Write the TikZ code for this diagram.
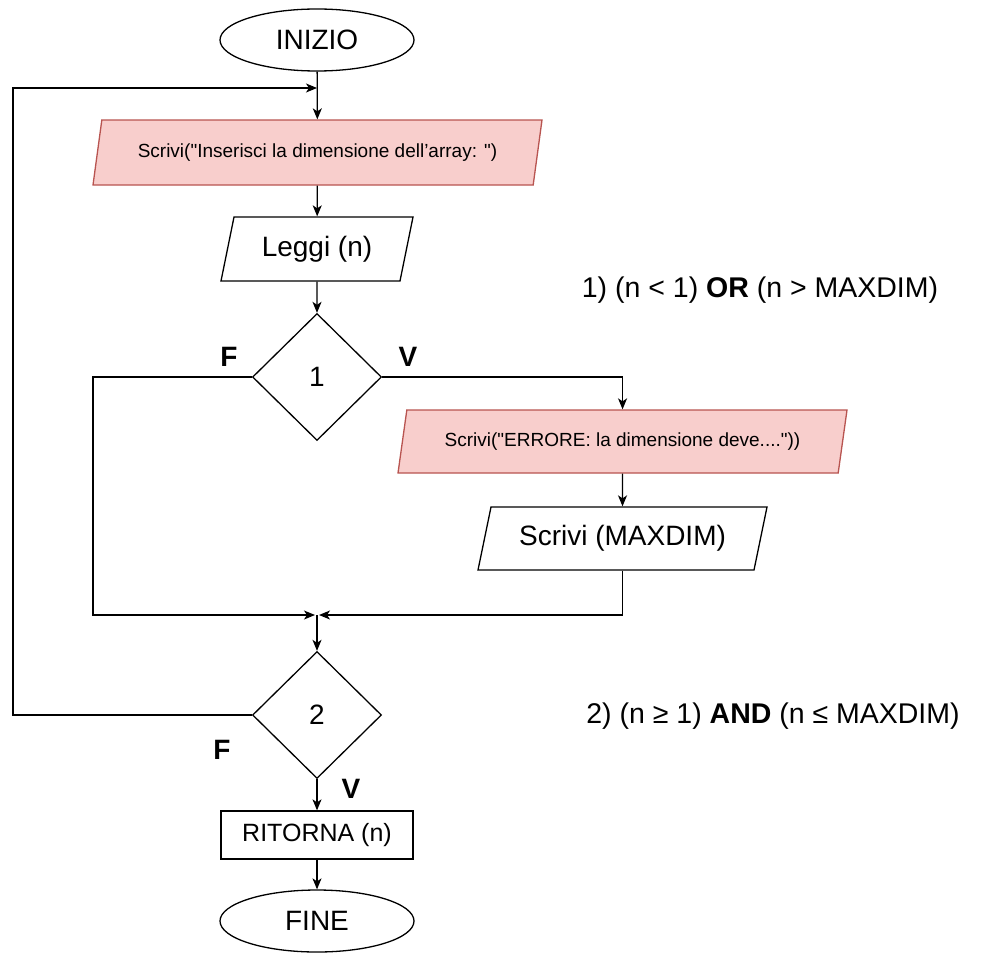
\documentclass[tikz,border=0pt]{standalone}
\usepackage{fontspec}
\newfontfamily\lsans{Liberation Sans}
\usetikzlibrary{shapes.geometric,arrows.meta}
\definecolor{pinkfill}{HTML}{F8CECC}
\definecolor{pinkline}{HTML}{B85450}
\begin{document}
\begin{tikzpicture}[x=1pt,y=-1pt, line width=1.3pt,
  >={Stealth[length=11pt,width=9pt,inset=3pt]},
  every node/.style={font=\lsans\fontsize{28}{32}\selectfont, text=black},
  term/.style={ellipse, draw, minimum width=194pt, minimum height=62pt, inner sep=0pt},
  para/.style={trapezium, trapezium left angle=63.5, trapezium right angle=116.5,
    trapezium stretches body, draw, inner sep=0pt},
  pinkbox/.style={fill=pinkfill, draw=pinkline, font=\lsans\fontsize{19}{22}\selectfont},
  dec/.style={diamond, draw, minimum width=129pt, minimum height=127pt, inner sep=0pt},
  procbox/.style={rectangle, draw, minimum width=192pt, minimum height=48pt, inner sep=0pt,
    font=\lsans\fontsize{25}{29}\selectfont},
  lbl/.style={font=\lsans\bfseries\fontsize{28}{32}\selectfont},
  cond/.style={font=\lsans\fontsize{28.5}{32}\selectfont}
]
\useasboundingbox (0,0) rectangle (981,955);

\node[term] (start) at (317,40) {INIZIO};
\node[para, pinkbox, minimum width=449pt, minimum height=65pt] (w1) at (317.5,152.5)
  {Scrivi("Inserisci la dimensione dell’array: ")};
\node[para, minimum width=192pt, minimum height=64pt] (leggi) at (317,249) {Leggi (n)};
\node[dec] (d1) at (317,377) {1};
\node[para, pinkbox, minimum width=449pt, minimum height=63pt] (w2) at (622.5,441.5)
  {Scrivi("ERRORE: la dimensione deve...."))};
\node[para, minimum width=289pt, minimum height=63pt] (w3) at (622.5,538.5) {Scrivi (MAXDIM)};
\node[dec] (d2) at (317,715) {2};
\node[procbox] (ret) at (317,835) {RITORNA (n)};
\node[term] (fine) at (317,921) {FINE};

\node[lbl] (f1) at (229,357) {F};
\node[lbl] (v1) at (408,357) {V};
\node[lbl] (f2) at (222,750) {F};
\node[lbl] (v2) at (351,789) {V};

\node[cond] (c1) at (760,290) {1) (n < 1) \textbf{OR} (n > MAXDIM)};
\node[cond] (c2) at (773,716) {2) (n ≥ 1) \textbf{AND} (n ≤ MAXDIM)};

\coordinate (looptop) at (317,88);
\coordinate (loopx) at (13,88);
\coordinate (merge) at (317,615);
\coordinate (leftx) at (93,615);

\draw[->] (start) -- (w1);
\draw[->] (w1) -- (leggi);
\draw[->] (leggi) -- (d1);
\draw[->] (d1.east) -| (w2.north);
\draw[->] (w2) -- (w3);
\draw[->, shorten >=2pt] (w3.south) |- (merge);
\draw[->, shorten >=2pt] (d1.west) -| (leftx) |- (merge);
\draw[->] (merge) -- (d2);
\draw[->] (d2.west) -| (loopx) |- (looptop);
\draw[->] (d2) -- (ret);
\draw[->] (ret) -- (fine);
\end{tikzpicture}
\end{document}
